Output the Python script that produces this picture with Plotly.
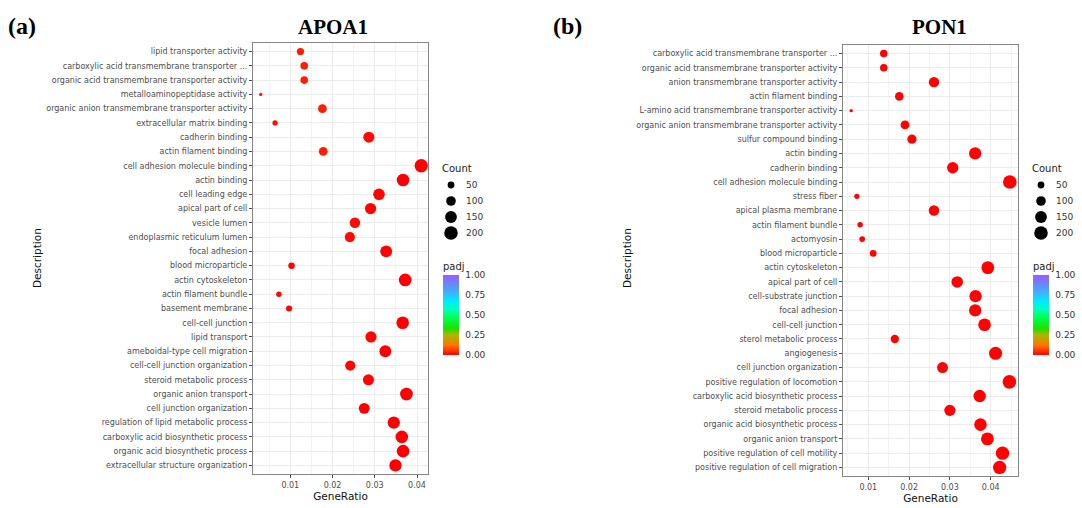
import numpy as np
import plotly.graph_objects as go

# ---------------- data ----------------
apoa1_desc = [
    "lipid transporter activity",
    "carboxylic acid transmembrane transporter ...",
    "organic acid transmembrane transporter activity",
    "metalloaminopeptidase activity",
    "organic anion transmembrane transporter activity",
    "extracellular matrix binding",
    "cadherin binding",
    "actin filament binding",
    "cell adhesion molecule binding",
    "actin binding",
    "cell leading edge",
    "apical part of cell",
    "vesicle lumen",
    "endoplasmic reticulum lumen",
    "focal adhesion",
    "blood microparticle",
    "actin cytoskeleton",
    "actin filament bundle",
    "basement membrane",
    "cell-cell junction",
    "lipid transport",
    "ameboidal-type cell migration",
    "cell-cell junction organization",
    "steroid metabolic process",
    "organic anion transport",
    "cell junction organization",
    "regulation of lipid metabolic process",
    "carboxylic acid biosynthetic process",
    "organic acid biosynthetic process",
    "extracellular structure organization",
]
apoa1_ratio = [0.0124, 0.0133, 0.0133, 0.0030, 0.0176, 0.0064, 0.0286, 0.0178,
               0.0410, 0.0367, 0.0310, 0.0290, 0.0253, 0.0241, 0.0327, 0.0103,
               0.0372, 0.0073, 0.0097, 0.0366, 0.0291, 0.0325, 0.0242, 0.0285,
               0.0375, 0.0275, 0.0345, 0.0364, 0.0367, 0.0349]
apoa1_count = [58, 63, 63, 12, 83, 30, 134, 84, 193, 172, 146, 136, 119, 113, 154, 46,
               175, 32, 40, 172, 137, 153, 114, 134, 176, 129, 162, 171, 172, 164]
apoa1_padj = [0.03, 0.03, 0.03, 0.02, 0.03, 0.01, 0.01, 0.03, 0.0, 0.0, 0.005, 0.005,
              0.01, 0.01, 0.0, 0.005, 0.0, 0.005, 0.005, 0.0, 0.005, 0.0, 0.005, 0.005,
              0.0, 0.0, 0.0, 0.0, 0.0, 0.0]

pon1_desc = [
    "carboxylic acid transmembrane transporter ...",
    "organic acid transmembrane transporter activity",
    "anion transmembrane transporter activity",
    "actin filament binding",
    "L-amino acid transmembrane transporter activity",
    "organic anion transmembrane transporter activity",
    "sulfur compound binding",
    "actin binding",
    "cadherin binding",
    "cell adhesion molecule binding",
    "stress fiber",
    "apical plasma membrane",
    "actin filament bundle",
    "actomyosin",
    "blood microparticle",
    "actin cytoskeleton",
    "apical part of cell",
    "cell-substrate junction",
    "focal adhesion",
    "cell-cell junction",
    "sterol metabolic process",
    "angiogenesis",
    "cell junction organization",
    "positive regulation of locomotion",
    "carboxylic acid biosynthetic process",
    "steroid metabolic process",
    "organic acid biosynthetic process",
    "organic anion transport",
    "positive regulation of cell motility",
    "positive regulation of cell migration",
]
pon1_ratio = [0.0138, 0.0138, 0.0261, 0.0176, 0.0058, 0.0190, 0.0207, 0.0362,
              0.0307, 0.0447, 0.0072, 0.0261, 0.0080, 0.0085, 0.0112, 0.0393,
              0.0318, 0.0363, 0.0362, 0.0385, 0.0165, 0.0412, 0.0282, 0.0446,
              0.0373, 0.0300, 0.0375, 0.0392, 0.0429, 0.0422]
pon1_count = [62, 62, 118, 80, 12, 86, 94, 164, 139, 202, 30, 118, 32, 36, 50, 178,
              144, 164, 164, 174, 75, 186, 128, 202, 169, 136, 170, 177, 194, 191]
pon1_padj = [0.001] * 30

legend_counts = [50, 100, 150, 200]
cbar_ticks = [0, 0.25, 0.5, 0.75, 1.0]
cbar_ticktext = ["0.00", "0.25", "0.50", "0.75", "1.00"]

# ---------------- style ----------------
W, H = 1082, 508
colorscale = [
    [0.0, "#ff0000"], [0.12, "#ff7400"], [0.25, "#a9b800"], [0.33, "#20de00"],
    [0.45, "#00ff44"], [0.58, "#00ffc4"], [0.68, "#00e8ff"], [0.78, "#3fb2ff"],
    [0.90, "#6f82ff"], [1.0, "#9a5cff"],
]
FONT = "DejaVu Sans"


def diam(c):
    return 0.96 * np.sqrt(c)


fig = go.Figure()

panels = [
    dict(desc=apoa1_desc, ratio=apoa1_ratio, count=apoa1_count, padj=apoa1_padj,
         xa="x", ya="y", ca="coloraxis", legx=451, cbx=443),
    dict(desc=pon1_desc, ratio=pon1_ratio, count=pon1_count, padj=pon1_padj,
         xa="x2", ya="y2", ca="coloraxis2", legx=1041, cbx=1033),
]

for p in panels:
    fig.add_trace(go.Scatter(
        x=p["ratio"], y=p["desc"], mode="markers",
        marker=dict(size=[diam(c) for c in p["count"]], color=p["padj"],
                    coloraxis=p["ca"], line=dict(width=0), opacity=1),
        xaxis=p["xa"], yaxis=p["ya"], showlegend=False,
        customdata=p["count"],
        hovertemplate="%{y}<br>GeneRatio=%{x}<br>Count=%{customdata}<extra></extra>",
    ))


def xaxis_cfg(domain, rng, anchor):
    return dict(
        domain=domain, range=rng, anchor=anchor,
        tickvals=[0.01, 0.02, 0.03, 0.04], ticktext=["0.01", "0.02", "0.03", "0.04"],
        tickfont=dict(family=FONT, size=8, color="#4d4d4d"),
        ticks="outside", ticklen=3, tickcolor="#4d4d4d", tickwidth=1,
        showgrid=True, gridcolor="#ebebeb", gridwidth=1,
        minor=dict(tickvals=[0.005, 0.015, 0.025, 0.035, 0.045], showgrid=True,
                   gridcolor="#f3f3f3", gridwidth=0.6, ticks=""),
        showline=True, linecolor="#858585", linewidth=1.2, mirror=True,
        zeroline=False,
        title=dict(text="GeneRatio", font=dict(family=FONT, size=10.5, color="#111"),
                   standoff=2),
    )


def yaxis_cfg(domain, cats, anchor):
    return dict(
        domain=domain, type="category", categoryorder="array", categoryarray=cats,
        range=[len(cats) - 0.4, -0.6], anchor=anchor,
        tickfont=dict(family=FONT, size=8, color="#4d4d4d"),
        ticks="outside", ticklen=3, tickcolor="#4d4d4d", tickwidth=1,
        showgrid=True, gridcolor="#ebebeb", gridwidth=1,
        showline=True, linecolor="#858585", linewidth=1.2, mirror=True,
        zeroline=False,
        title=dict(text=""),
    )


def cax(xpx):
    return dict(
        cmin=0, cmax=1, colorscale=colorscale,
        colorbar=dict(
            x=xpx / W, xanchor="left", y=1 - 355 / H, yanchor="bottom",
            len=96, lenmode="pixels", thickness=16, thicknessmode="pixels",
            xpad=0, ypad=0, outlinewidth=0,
            tickvals=cbar_ticks, ticktext=cbar_ticktext,
            ticks="outside", ticklen=5, tickcolor="rgba(0,0,0,0)",
            tickfont=dict(family=FONT, size=9, color="#333"),
            title=dict(text="padj", side="top",
                       font=dict(family=FONT, size=10, color="#222")),
        ),
    )


fig.update_layout(
    width=W, height=H, margin=dict(l=0, r=0, t=0, b=0),
    paper_bgcolor="white", plot_bgcolor="white",
    xaxis=xaxis_cfg([253 / W, 428 / W], [0.00117, 0.0426], "y"),
    xaxis2=xaxis_cfg([843 / W, 1018 / W], [0.0038, 0.0467], "y2"),
    yaxis=yaxis_cfg([1 - 474 / H, 1 - 43 / H], apoa1_desc, "x"),
    yaxis2=yaxis_cfg([1 - 476 / H, 1 - 45 / H], pon1_desc, "x2"),
    coloraxis=cax(443), coloraxis2=cax(1033),
    showlegend=False,
    font=dict(family=FONT),
)

# ---- size legends ("Count") drawn as paper-space circles ----
for p in panels:
    lx = p["legx"]
    fig.add_annotation(
        text="Count", x=(lx - 11) / W, y=1 - 168 / H, xref="paper", yref="paper",
        xanchor="left", yanchor="middle", showarrow=False,
        font=dict(family=FONT, size=10, color="#222"),
    )
    for i, c in enumerate(legend_counts):
        cy = 185 + 16 * i
        r = diam(c) / 2
        fig.add_shape(
            type="circle", xref="paper", yref="paper",
            x0=(lx - r) / W, x1=(lx + r) / W, y0=1 - (cy + r) / H, y1=1 - (cy - r) / H,
            fillcolor="black", line=dict(width=0),
        )
        fig.add_annotation(
            text=str(c), x=(lx + 13) / W, y=1 - cy / H, xref="paper", yref="paper",
            xanchor="left", yanchor="middle", showarrow=False,
            font=dict(family=FONT, size=9, color="#333"),
        )

annos = [
    dict(text="<b>(a)</b>", x=22, y=26, size=24),
    dict(text="<b>(b)</b>", x=567, y=26, size=24),
    dict(text="<b>APOA1</b>", x=333, y=27, size=21),
    dict(text="<b>PON1</b>", x=939, y=27, size=21),
]
for a in annos:
    fig.add_annotation(
        text=a["text"], x=a["x"] / W, y=1 - a["y"] / H, xref="paper", yref="paper",
        xanchor="center", yanchor="middle", showarrow=False,
        font=dict(family="Liberation Serif", size=a["size"], color="black"),
    )
for xpx in (37, 627):
    fig.add_annotation(
        text="Description", x=xpx / W, y=1 - 258 / H, xref="paper", yref="paper",
        xanchor="center", yanchor="middle", showarrow=False, textangle=-90,
        font=dict(family=FONT, size=10.5, color="#111"),
    )

fig.write_html("out.html")
